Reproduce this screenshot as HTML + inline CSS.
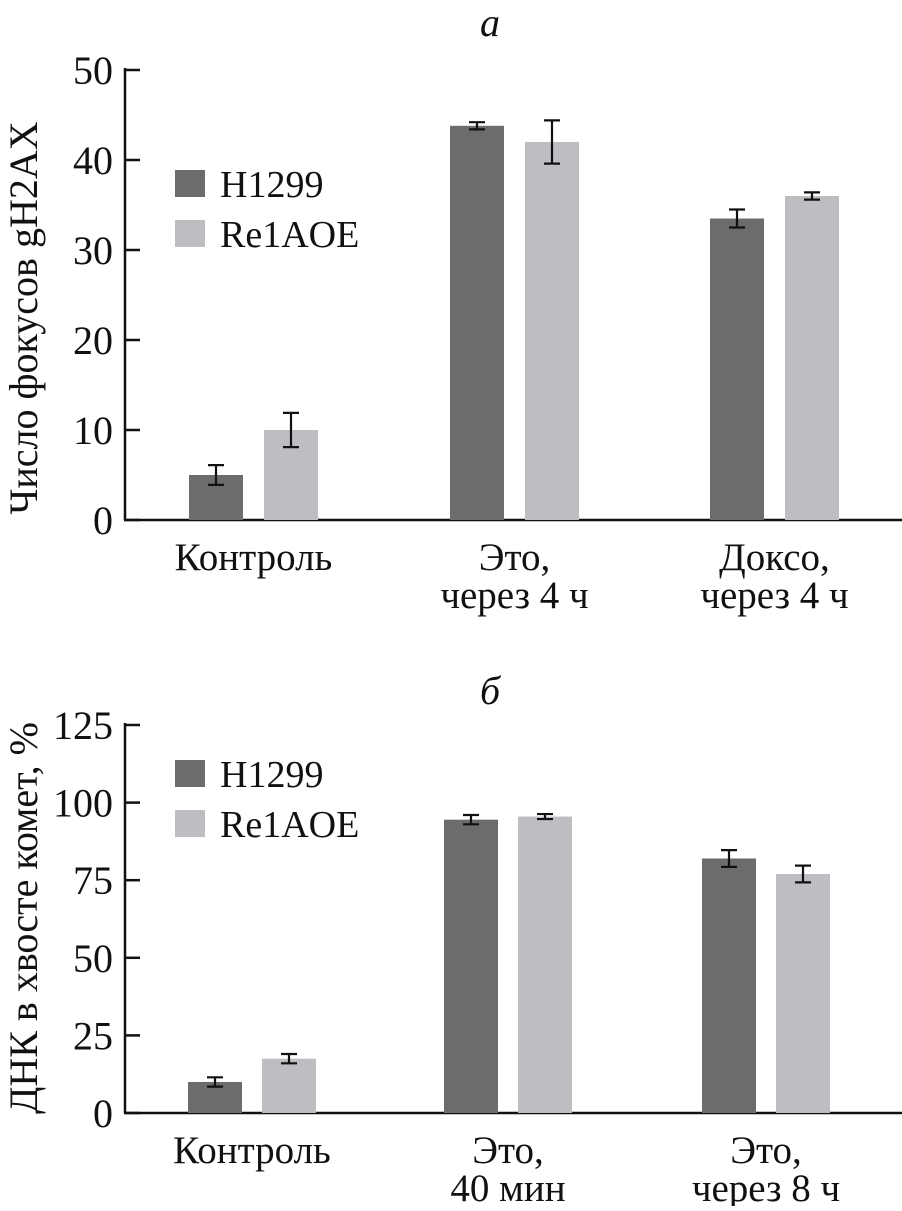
<!DOCTYPE html>
<html><head><meta charset="utf-8"><style>
body{margin:0;background:#fff}
svg text{font-family:"Liberation Serif",serif;fill:#111}
</style></head><body>
<svg id="c" width="902" height="1206" xmlns="http://www.w3.org/2000/svg"></svg>
<script>
const catsA=["Контроль","Это,|через 4 ч","Доксо,|через 4 ч"];
const h1299A=[5,43.8,33.5];
const h1299AErr=[1.1,0.4,1.0];
const reA=[10,42,36];
const reAErr=[1.9,2.4,0.4];
const ticksA=[0,10,20,30,40,50];
const catsB=["Контроль","Это,|40 мин","Это,|через 8 ч"];
const h1299B=[10,94.5,82];
const h1299BErr=[1.5,1.5,2.7];
const reB=[17.5,95.5,77];
const reBErr=[1.5,0.8,2.7];
const ticksB=[0,25,50,75,100,125];
const series=["H1299","Re1AOE"];

const NS="http://www.w3.org/2000/svg";
const svg=document.getElementById('c');
function mk(t,a,p){const e=document.createElementNS(NS,t);for(const k in a)e.setAttribute(k,a[k]);(p||svg).appendChild(e);return e;}
const DARK="#6c6c6e",LIGHT="#bdbec2";
function chart(o){
  const g=mk('g',{});
  
  
  const y=v=>o.y0-(v/o.max)*(o.y0-o.yTop);
  const ax=mk('line',{x1:125,y1:o.yTop-2,x2:125,y2:o.y0,stroke:'#111','stroke-width':2.5},g);
  
  const bx=mk('line',{x1:124,y1:o.y0,x2:902,y2:o.y0,stroke:'#111','stroke-width':2.5},g);
  
  o.ticks.forEach(t=>{
    const l=mk('line',{x1:125,y1:y(t),x2:140,y2:y(t),stroke:'#111','stroke-width':2.5},g);
    
    const tx=mk('text',{x:113,y:y(t)+14,'font-size':40,'text-anchor':'end'},g);tx.textContent=t;
    
  });
  o.cats.forEach((c,i)=>{
    const gx=o.gx[i];
    [[o.s1,o.e1,DARK,gx],[o.s2,o.e2,LIGHT,gx+o.off]].forEach(([s,e,col,x],k)=>{
      const v=s[i],er=e[i];
      const r=mk('rect',{x:x,y:y(v),width:54,height:o.y0-y(v),fill:col},g);
      
      const cx=x+27,p=mk('path',{d:`M${cx-8},${y(v+er)}H${cx+8}M${cx},${y(v+er)}V${y(v-er)}M${cx-8},${y(v-er)}H${cx+8}`,stroke:'#111','stroke-width':2.2,fill:'none'},g);
      
    });
    const lines=c.split('|');
    lines.forEach((ln,j)=>{
      const t=mk('text',{x:gx+(o.off+54)/2,y:o.y0+50+j*38,'font-size':39,'text-anchor':'middle'},g);t.textContent=ln;
      
    });
  });
  [[DARK,0],[LIGHT,1]].forEach(([col,k])=>{
    const r=mk('rect',{x:175,y:o.legY+k*50,width:30,height:27,fill:col},g);
    
    const t=mk('text',{x:220,y:o.legY+k*50+27,'font-size':38},g);t.textContent=series[k];
    
  });
  const tt=mk('text',{x:490,y:o.titleY,'font-size':40,'font-style':'italic','text-anchor':'middle'},g);tt.textContent=o.title;
  
  const yl=mk('text',{x:0,y:0,'font-size':40,'text-anchor':'middle',transform:`translate(37,${o.ylY}) rotate(-90)`},g);yl.textContent=o.ylabel;
  
}
chart({name:'chart-a',y0:520,yTop:70,max:50,ticks:ticksA,cats:catsA,s1:h1299A,e1:h1299AErr,s2:reA,e2:reAErr,gx:[189,450,710],off:75,legY:170,title:'а',titleY:36,ylabel:'Число фокусов gH2AX',ylY:318});
chart({name:'chart-b',y0:1113,yTop:725,max:125,ticks:ticksB,cats:catsB,s1:h1299B,e1:h1299BErr,s2:reB,e2:reBErr,gx:[188,444,702],off:74,legY:760,title:'б',titleY:704,ylabel:'ДНК в хвосте комет, %',ylY:918});
</script>
</body></html>
